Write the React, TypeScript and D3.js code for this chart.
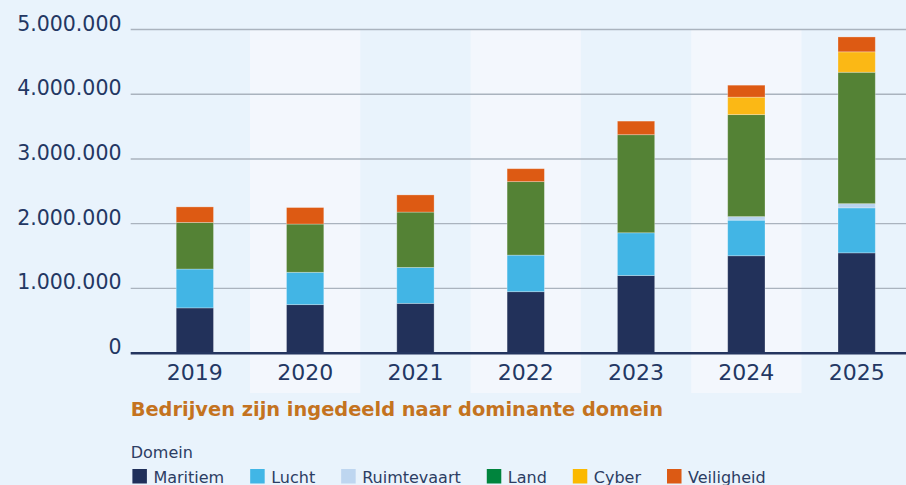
import React, { useMemo } from 'react';
import * as d3 from 'd3';

const years = ['2019', '2020', '2021', '2022', '2023', '2024', '2025'];
const maritiem = [700000, 750000, 770000, 950000, 1200000, 1505000, 1550000];
const lucht = [600000, 500000, 555000, 565000, 660000, 550000, 695000];
const ruimtevaart = [0, 0, 0, 0, 0, 55000, 65000];
const land = [720000, 745000, 855000, 1135000, 1515000, 1575000, 2030000];
const cyber = [0, 0, 0, 0, 0, 270000, 315000];
const veiligheid = [240000, 255000, 265000, 200000, 210000, 185000, 230000];
const seriesNames = ['Maritiem', 'Lucht', 'Ruimtevaart', 'Land', 'Cyber', 'Veiligheid'];
const yTicks = [0, 1000000, 2000000, 3000000, 4000000, 5000000];
const titleText = 'Bedrijven zijn ingedeeld naar dominante domein';
const legendTitle = 'Domein';

const barColors = ['#22315a', '#42b5e5', '#b8d3ef', '#548235', '#fbb815', '#dd5a13'];
const swatchColors = ['#1f2f5a', '#41b6e6', '#bed6f0', '#00843d', '#fbb900', '#dc5a14'];

const W = 906;
const H = 485;
const FONT = '"DejaVu Sans", sans-serif';

export default function App() {
  const values = [maritiem, lucht, ruimtevaart, land, cyber, veiligheid];
  const rows = years.map((y, i) => {
    const r: any = { year: y };
    seriesNames.forEach((s, k) => (r[s] = values[k][i]));
    return r;
  });
  const stacked = d3.stack<any>().keys(seriesNames)(rows);

  const plotLeft = 130.7;
  const x = d3.scaleBand<string>().domain(years).range([139.7, 139.7 + 110.3 * years.length]).padding(0);
  const y = d3.scaleLinear().domain([0, 5000000]).range([353.2, 29.5]);
  const barW = 37.3;
  const bandStart = (c: string) => Math.max(plotLeft, x(c)!);
  const center = (c: string) => (bandStart(c) + x(c)! + x.bandwidth()) / 2;

  const locale = d3.formatLocale({ decimal: ',', thousands: '.', grouping: [3], currency: ['', ''] });
  const fmt = locale.format(',d');

  const legendLayout = useMemo(() => {
    const canvas = document.createElement('canvas');
    const ctx = canvas.getContext('2d')!;
    ctx.font = '16px "DejaVu Sans"';
    let cx = 132.4;
    return seriesNames.map((s) => {
      const pos = cx;
      const w = ctx.measureText(s).width;
      cx = pos + 21 + w + 26;
      return pos;
    });
  }, []);

  return (
    <svg width={W} height={H} style={{ position: 'absolute', left: 0, top: 0, display: 'block' }}>
      <rect x={0} y={0} width={W} height={H} fill="#e9f3fc" />
      {years.map((c, i) =>
        i % 2 === 1 ? (
          <rect key={c} x={bandStart(c)} y={y(5000000)} width={x(c)! + x.bandwidth() - bandStart(c)} height={393 - y(5000000)} fill="#f3f7fd" />
        ) : null
      )}
      {yTicks.filter((t) => t > 0).map((t) => (
        <line key={t} x1={plotLeft} x2={W} y1={y(t)} y2={y(t)} stroke="#aab3be" strokeWidth={1.3} />
      ))}
      {yTicks.map((t) => (
        <text key={t} x={121.5} y={y(t) + 1} textAnchor="end" fontFamily={FONT} fontSize={20.5} fill="#233763">
          {fmt(t)}
        </text>
      ))}
      {stacked.map((s, k) => (
        <g key={s.key} fill={barColors[k]}>
          {s.map((d, i) =>
            d[1] - d[0] > 0 ? (
              <rect
                key={i}
                x={center(years[i]) - barW / 2}
                y={y(d[1])}
                width={barW}
                height={y(d[0]) - y(d[1])}
                stroke="rgba(255,255,255,0.35)"
                strokeWidth={0.8}
              />
            ) : null
          )}
        </g>
      ))}
      <line x1={plotLeft} x2={W} y1={y(0)} y2={y(0)} stroke="#24355f" strokeWidth={2.6} />
      {years.map((c) => (
        <text key={c} x={center(c)} y={379.5} textAnchor="middle" fontFamily={FONT} fontSize={22} fill="#233763">
          {c}
        </text>
      ))}
      <text x={130.7} y={415.7} fontFamily={FONT} fontSize={19.4} fontWeight={600} fill="#c4731f">
        {titleText}
      </text>
      <text x={130.7} y={457.7} fontFamily={FONT} fontSize={16} fill="#2c3d63">
        {legendTitle}
      </text>
      {seriesNames.map((s, k) => (
        <g key={s}>
          <rect x={legendLayout[k]} y={469} width={14.5} height={14.5} fill={swatchColors[k]} />
          <text x={legendLayout[k] + 21} y={483.2} fontFamily={FONT} fontSize={16} fill="#2c3d63">
            {s}
          </text>
        </g>
      ))}
    </svg>
  );
}
